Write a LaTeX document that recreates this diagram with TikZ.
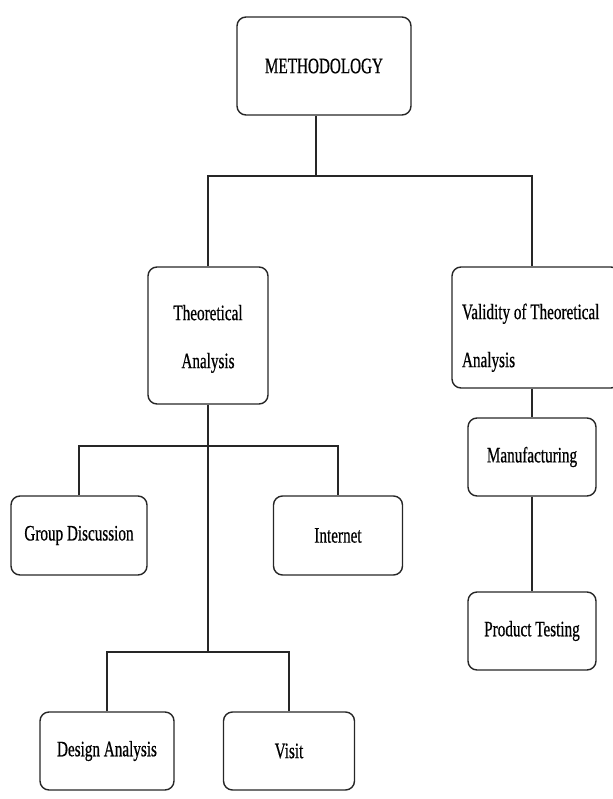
\documentclass[tikz,border=0pt]{standalone}
\usepackage{fontspec}
\setmainfont{Liberation Serif}[FakeStretch=0.69, FakeBold=0.6]
\tikzset{every node/.style={align=center}}
\tikzstyle{block} = [draw=black!85, line width=1.4pt, rounded corners=9pt, inner sep=0pt, font=\fontsize{22}{48}\selectfont]
\tikzstyle{link} = [line width=1.2pt, draw=black!85]

\begin{document}
\begin{tikzpicture}[x=1pt,y=-1pt]
		% Page
		\useasboundingbox (0,0) rectangle (612,799);
		
		% Boxes
		\node[block, minimum width=174pt, minimum height=98pt] (meth) at (324,66) {METHODOLOGY};
		\node[block, minimum width=120pt, minimum height=137pt] (theo) at (208,335.5) {\rule{0pt}{22pt}Theoretical\\Analysis};
		\node[block, minimum height=121pt, text width=148pt, inner xsep=10pt, align=flush left] (valid) at (536,327.5) {\rule{0pt}{36pt}Validity of Theoretical\\Analysis};
		%% Theoretical branch
		\node[block, minimum width=136pt, minimum height=79pt] (group) at (79,535.5) {Group Discussion};
		\node[block, minimum width=129pt, minimum height=79pt] (net) at (338,535.5) {Internet};
		\node[block, minimum width=134pt, minimum height=78pt] (design) at (107,751) {Design Analysis};
		\node[block, minimum width=131pt, minimum height=78pt] (visit) at (289,751) {Visit};
		%% Validity branch
		\node[block, minimum width=128pt, minimum height=78pt] (manu) at (532,457) {Manufacturing};
		\node[block, minimum width=128pt, minimum height=78pt] (test) at (532,631) {Product Testing};
		
		% Junctions
		\coordinate (top) at (316,176);
		\coordinate (mid) at (208,446);
		\coordinate (low) at (208,652);
		
		% Lines
		\draw[link] (meth.south -| top) -- (top);
		\draw[link] (theo.north) |- (top) -| ([xshift=-4pt]valid.north);
		\draw[link] (theo.south) -- (low);
		\draw[link] (group.north) |- (mid) -| (net.north);
		\draw[link] (design.north) |- (low) -| (visit.north);
		\draw[link] ([xshift=-4pt]valid.south) -- (manu.north);
		\draw[link] (manu.south) -- (test.north);
	\end{tikzpicture}
\end{document}
